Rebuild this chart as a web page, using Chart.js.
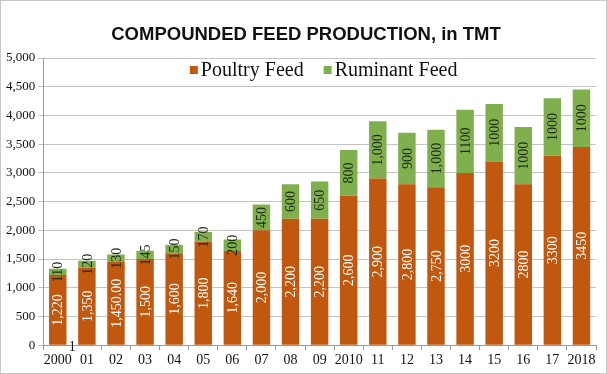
<!DOCTYPE html>
<html>
<head>
<meta charset="utf-8">
<script src="https://cdn.jsdelivr.net/npm/chart.js@4.4.0/dist/chart.umd.min.js"></script>
<style>
  html, body { margin: 0; padding: 0; background: #ffffff; }
  #wrap { width: 607px; height: 374px; box-sizing: border-box; border: 1px solid #c8c8c8; position: relative; }
</style>
</head>
<body>
<div id="wrap"><canvas id="feedChart"></canvas></div>
<script>
const chartTitle = 'COMPOUNDED FEED PRODUCTION, in TMT';
const years = ['2000', '01', '02', '03', '04', '05', '06', '07', '08', '09', '2010',
               '11', '12', '13', '14', '15', '16', '17', '2018'];
const poultryFeed = [1220, 1350, 1450, 1500, 1600, 1800, 1640, 2000, 2200, 2200, 2600,
                     2900, 2800, 2750, 3000, 3200, 2800, 3300, 3450];
const ruminantFeed = [110, 120, 130, 145, 150, 170, 200, 450, 600, 650, 800,
                      1000, 900, 1000, 1100, 1000, 1000, 1000, 1000];
// labels as printed on the original chart (formatting is not uniform)
const poultryLabels = ['1,220', '1,350', '1,450.00', '1,500', '1,600', '1,800', '1,640', '2,000', '2,200', '2,200', '2,600',
                       '2,900', '2,800', '2,750', '3000', '3200', '2800', '3300', '3450'];
const ruminantLabels = ['110', '120', '130', '145', '150', '170', '200', '450', '600', '650', '800',
                        '1,000', '900', '1,000', '1100', '1000', '1000', '1000', '1000'];

const serif = "'Liberation Serif', 'DejaVu Serif', serif";

// title + legend drawn by hand (legend sits inside the plot, in one row)
const headerPlugin = {
    id: 'header',
    afterDraw(chart) {
        const ctx = chart.ctx;
        const area = chart.chartArea;
        ctx.save();
        ctx.fillStyle = '#111111';
        ctx.textBaseline = 'middle';
        ctx.textAlign = 'center';
        ctx.font = "bold 18.5px 'Liberation Sans', Arial, sans-serif";
        ctx.fillText(chartTitle, 305, 34);

        // legend
        ctx.font = '20px ' + serif;
        ctx.textAlign = 'left';
        const box = 8, gapBox = 3, gapItem = 20;
        const items = chart.data.datasets.map(function(ds) {
            return { text: ds.label, color: ds.backgroundColor, w: ctx.measureText(ds.label).width };
        });
        let total = 0;
        items.forEach(function(it, i) { total += box + gapBox + it.w + (i ? gapItem : 0); });
        let x = (area.left + area.right) / 2 + 4 - total / 2;
        const y = area.top + 13;
        items.forEach(function(it) {
            ctx.fillStyle = it.color;
            ctx.fillRect(x, y - box / 2 - 1, box, box);
            x += box + gapBox;
            ctx.fillStyle = '#111111';
            ctx.fillText(it.text, x, y);
            x += it.w + gapItem;
        });
        ctx.restore();
    }
};

// rotated value labels inside the bars
const barLabels = {
    id: 'barLabels',
    afterDatasetsDraw(chart) {
        const ctx = chart.ctx;
        const texts = [poultryLabels, ruminantLabels];
        const colors = ['#ffffff', '#1c2a10'];
        ctx.save();
        ctx.font = '14px ' + serif;
        ctx.textAlign = 'center';
        ctx.textBaseline = 'middle';
        chart.data.datasets.forEach(function(ds, di) {
            const meta = chart.getDatasetMeta(di);
            meta.data.forEach(function(bar, i) {
                const cy = (bar.y + bar.base) / 2;
                ctx.save();
                ctx.translate(bar.x, cy);
                ctx.rotate(-Math.PI / 2);
                ctx.fillStyle = colors[di];
                ctx.fillText(texts[di][i], 0, 1);
                ctx.restore();
            });
        });
        // stray "1" sitting on the base line in the original
        const xs = chart.scales.x, ys = chart.scales.y;
        ctx.fillStyle = '#111111';
        ctx.fillText('1', xs.getPixelForValue(0.5), ys.getPixelForValue(0) + 2);
        ctx.restore();
    }
};

const ctxBar = document.getElementById('feedChart').getContext('2d');
new Chart(ctxBar, {
    type: 'bar',
    data: {
        labels: years,
        datasets: [{
            label: 'Poultry Feed',
            data: poultryFeed,
            backgroundColor: '#c0590f',
            borderWidth: 0
        }, {
            label: 'Ruminant Feed',
            data: ruminantFeed,
            backgroundColor: '#80b04e',
            borderWidth: 0
        }]
    },
    options: {
        responsive: true,
        maintainAspectRatio: false,
        animation: false,
        layout: { padding: { left: 2, right: 10, top: 57, bottom: 2 } },
        datasets: { bar: { categoryPercentage: 1, barPercentage: 0.6 } },
        plugins: {
            title: { display: false },
            legend: { display: false },
            tooltip: { enabled: false }
        },
        scales: {
            x: {
                stacked: true,
                grid: { drawOnChartArea: false, drawTicks: true, tickLength: 5, color: '#9a9a9a' },
                border: { color: '#9a9a9a' },
                ticks: { color: '#111111', font: { family: serif, size: 14 }, padding: 2, maxRotation: 0, autoSkip: false }
            },
            y: {
                stacked: true,
                min: 0,
                max: 5000,
                grid: { color: '#c4c4c4', tickLength: 5 },
                border: { color: '#9a9a9a' },
                ticks: {
                    stepSize: 500,
                    color: '#111111',
                    padding: 3,
                    font: { family: serif, size: 13 },
                    callback: function(v) { return v.toLocaleString('en-US'); }
                }
            }
        }
    },
    plugins: [barLabels, headerPlugin]
});
</script>
</body>
</html>
